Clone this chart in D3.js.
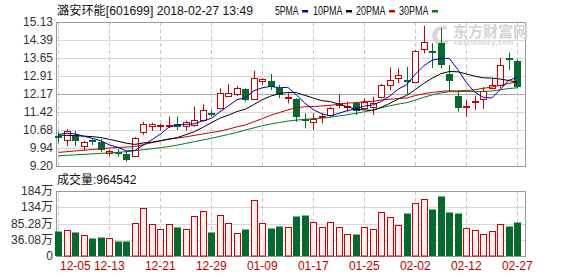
<!DOCTYPE html>
<html>
<head>
<meta charset="utf-8">
<script src="https://cdn.jsdelivr.net/npm/d3@7"></script>
<style>
  body { margin: 0; background: #fff; }
  svg text { font-family: "Liberation Sans", "Noto Sans CJK SC", sans-serif; font-size: 12px; }
</style>
</head>
<body>
<div id="chart"></div>
<script>
// 日K数据 (读自图片)
const dates = ["12-05","12-06","12-07","12-08","12-11","12-12","12-13","12-14","12-15","12-18","12-19","12-20","12-21","12-22","12-25","12-26","12-27","12-28","12-29",
  "01-02","01-03","01-04","01-05","01-08","01-09","01-10","01-11","01-12","01-15","01-16","01-17","01-18","01-19","01-22","01-23","01-24","01-25","01-26","01-29","01-30","01-31",
  "02-01","02-02","02-05","02-06","02-07","02-08","02-09","02-12","02-13","02-14","02-22","02-23","02-26","02-27"];
const opens = [10.42,10.27,10.48,10.02,10.27,10.19,9.73,9.78,9.71,9.61,10.60,10.85,10.83,10.87,10.95,10.86,10.89,11.09,11.40,
  11.58,12.09,12.16,12.36,11.95,12.72,12.70,12.42,12.00,11.95,11.13,11.02,11.20,11.30,11.71,11.63,11.78,11.60,11.64,12.05,12.54,12.81,
  12.76,12.67,14.01,13.92,14.25,12.99,12.07,11.62,11.85,11.95,12.43,12.52,13.63,13.52];
const closes = [10.40,10.66,10.23,10.20,10.23,9.86,9.82,9.75,9.45,10.34,10.93,10.93,10.90,10.90,10.82,11.00,11.09,11.51,11.37,
  12.19,12.19,12.40,11.92,12.81,12.78,12.47,12.12,12.04,11.23,11.11,11.12,11.26,11.58,11.78,11.67,11.48,11.85,11.78,12.54,12.74,12.95,
  12.72,13.93,14.29,13.89,13.34,12.71,11.60,11.66,11.89,12.29,12.54,13.36,13.59,12.45];
const highs = [10.61,10.72,10.64,10.23,10.35,10.31,9.86,9.90,9.79,10.39,11.02,10.98,10.93,11.23,11.23,11.07,11.64,11.74,11.51,
  12.40,12.58,12.49,12.40,13.12,12.81,12.99,12.54,12.19,11.99,11.37,11.37,11.37,11.64,12.15,11.85,11.85,11.99,12.05,12.58,13.26,13.22,
  13.28,13.98,14.98,14.26,14.88,13.36,12.32,11.92,12.10,12.45,12.81,13.65,13.87,13.59];
const lows = [10.13,10.02,10.02,9.82,10.06,9.78,9.61,9.58,9.37,9.56,10.48,10.65,10.65,10.76,10.68,10.65,10.82,11.02,11.23,
  11.53,12.08,12.08,11.85,11.92,12.54,12.33,11.99,11.78,11.02,10.75,10.68,10.96,11.23,11.58,11.44,11.30,11.51,11.30,11.99,12.33,12.61,
  12.17,12.61,13.84,13.24,13.22,12.26,11.44,11.23,11.51,11.55,12.36,12.40,13.15,12.40];
// 成交量 (万手)
const volumes = [72.1,74.1,69.3,60.0,51.6,55.2,51.6,41.1,43.1,93.8,135.3,90.2,76.9,90.2,82.6,76.9,112.7,127.7,68.5,
  115.5,93.0,64.8,76.9,158.7,93.0,80.6,84.5,81.7,113.6,116.4,95.8,81.7,95.8,83.4,62.0,62.0,83.4,76.1,124.0,109.9,87.4,
  121.2,149.4,160.6,133.3,169.9,124.8,121.2,78.9,74.1,62.0,71.3,90.2,85.4,96.4542];

// 均线
const ma5 = [10.50,10.55,10.52,10.43,10.34,10.24,10.07,9.97,9.82,9.84,10.06,10.28,10.51,10.80,10.90,10.91,10.94,11.06,11.16,
  11.43,11.67,11.93,12.01,12.30,12.42,12.48,12.42,12.44,12.13,11.79,11.52,11.35,11.26,11.37,11.48,11.55,11.67,11.71,11.86,12.08,12.37,
  12.55,12.98,13.33,13.56,13.63,13.63,13.17,12.64,12.24,12.03,12.00,12.35,12.73,12.85];
const ma10 = [10.47,10.46,10.45,10.43,10.41,10.37,10.30,10.22,10.14,10.09,10.15,10.18,10.24,10.31,10.37,10.49,10.61,10.79,10.98,
  11.17,11.29,11.44,11.54,11.73,11.93,12.08,12.18,12.23,12.22,12.11,12.00,11.89,11.85,11.75,11.64,11.54,11.51,11.49,11.62,11.78,11.96,
  12.11,12.35,12.60,12.82,13.00,13.09,13.08,12.99,12.90,12.83,12.82,12.78,12.72,12.65];
const ma20 = [9.76,9.79,9.82,9.85,9.88,9.91,9.94,9.96,9.98,10.00,10.08,10.16,10.23,10.30,10.35,10.40,10.46,10.52,10.58,
  10.63,10.72,10.81,10.89,11.02,11.15,11.29,11.40,11.51,11.60,11.64,11.65,11.67,11.70,11.74,11.79,11.81,11.85,11.86,11.92,11.95,11.98,
  12.00,12.10,12.18,12.23,12.27,12.30,12.29,12.31,12.34,12.40,12.45,12.52,12.60,12.66];
const ma30 = [9.62,9.64,9.66,9.68,9.70,9.72,9.74,9.76,9.79,9.83,9.87,9.91,9.95,10.00,10.06,10.13,10.20,10.27,10.34,
  10.42,10.50,10.58,10.68,10.77,10.86,10.93,10.99,11.05,11.09,11.12,11.15,11.17,11.21,11.26,11.31,11.37,11.43,11.50,11.60,11.68,11.75,
  11.81,11.91,12.03,12.13,12.21,12.26,12.26,12.27,12.26,12.27,12.29,12.34,12.39,12.42];

const priceTicks = [15.13,14.39,13.65,12.91,12.17,11.42,10.68,9.94,9.20];
const volTickValues = [0,46,92,138,184];
const volTickLabels = ["0","36.08万","85.28万","134万","184万"];
const dateTicks = ["12-05","12-13","12-21","12-29","01-09","01-17","01-25","02-02","02-12","02-27"];
const maLabels = ["5PMA","10PMA","20PMA","30PMA"];

const W = 578, H = 276;
const left = 56, right = 526;
const pTop = 22, pBottom = 166;
const vTop = 191, vBottom = 256;
const RED = "#cc0000", GREEN = "#08692f", GRID = "#d8d8d8";

const svg = d3.select("#chart").append("svg")
  .attr("width", W).attr("height", H);

const x = d3.scalePoint().domain(dates).range([58.3, 517.3]);
const y = d3.scaleLinear().domain([9.20, 15.13]).range([pBottom, pTop]);
const yv = d3.scaleLinear().domain([0, 184]).range([vBottom, vTop]);

const px = (d) => Math.round(x(d)) + 0.5;

// 网格
const drawPanel = (top, bottom, yScale, values, labels, midIndex) => {
  const g = svg.append("g");
  g.selectAll("line.h").data(values).enter().append("line")
    .attr("x1", left).attr("x2", right)
    .attr("y1", (d) => Math.round(yScale(d)) + 0.5)
    .attr("y2", (d) => Math.round(yScale(d)) + 0.5)
    .attr("stroke", (d, i) => (i === midIndex ? "#a8a8a8" : GRID));
  g.selectAll("line.v").data(dateTicks).enter().append("line")
    .attr("x1", px).attr("x2", px)
    .attr("y1", top).attr("y2", bottom)
    .attr("stroke", "#c8c8c8").attr("stroke-dasharray", "4,3");
  g.append("rect")
    .attr("x", left + 0.5).attr("y", top + 0.5)
    .attr("width", right - left - 1).attr("height", bottom - top)
    .attr("fill", "none").attr("stroke", "#999");
  g.selectAll("text").data(values).enter().append("text")
    .attr("x", 53).attr("y", (d) => yScale(d) + 4)
    .attr("text-anchor", "end").attr("fill", "#333")
    .text((d, i) => labels[i]);
};

drawPanel(pTop, pBottom, y, priceTicks, priceTicks.map((d) => d.toFixed(2)), 4);
drawPanel(vTop, vBottom, yv, volTickValues, volTickLabels, -1);

// 水印
const wm = svg.append("g").attr("fill", "#d4d4d4");
wm.append("path")
  .attr("d", "M446,26 C436,24 430,32 433,40 C436,46 444,46 449,42 L445,39 C441,42 437,40 437,36 C437,31 442,28 447,30 Z")
  .attr("opacity", 0.9);
wm.append("text").attr("x", 453).attr("y", 37)
  .style("font-size", "15px").style("font-weight", "bold").text("东方财富网");
wm.append("text").attr("x", 454).attr("y", 45)
  .style("font-size", "7px").style("font-weight", "bold").style("letter-spacing", "0.6px")
  .text("eastmoney.com");

// 均线
const maList = [
  { values: ma30, color: "#007a1f" },
  { values: ma20, color: "#cc0000" },
  { values: ma10, color: "#000000" },
  { values: ma5, color: "#0000b0" },
];
const line = d3.line().x((d, i) => x(dates[i])).y((d) => y(d));

// K线
const candles = svg.append("g");
dates.forEach((d, i) => {
  const up = closes[i] >= opens[i];
  const c = up ? RED : GREEN;
  const cx = px(d);
  candles.append("line")
    .attr("x1", cx).attr("x2", cx)
    .attr("y1", y(highs[i])).attr("y2", y(lows[i]))
    .attr("stroke", c);
  const top = Math.round(y(Math.max(opens[i], closes[i])));
  const h = Math.max(1, Math.round(y(Math.min(opens[i], closes[i]))) - top);
  if (up) {
    candles.append("rect")
      .attr("x", cx - 3).attr("y", top + 0.5)
      .attr("width", 6).attr("height", Math.max(h, 1))
      .attr("fill", "#fff").attr("stroke", c);
  } else {
    candles.append("rect")
      .attr("x", cx - 3.5).attr("y", top)
      .attr("width", 7).attr("height", Math.max(h, 2))
      .attr("fill", c);
  }
});

maList.forEach((m) => {
  svg.append("path").datum(m.values)
    .attr("d", line)
    .attr("fill", "none")
    .attr("stroke", m.color)
    .attr("stroke-width", 1);
});

// 成交量
svg.append("g").selectAll("rect").data(dates).enter().append("rect")
  .attr("x", (d, i) => (closes[i] >= opens[i] ? px(d) - 3 : px(d) - 3.5))
  .attr("y", (d, i) => Math.round(yv(volumes[i])) + 0.5)
  .attr("width", (d, i) => (closes[i] >= opens[i] ? 6 : 7))
  .attr("height", (d, i) => vBottom - Math.round(yv(volumes[i])) - 0.5)
  .attr("fill", (d, i) => (closes[i] >= opens[i] ? "#ffeeee" : GREEN))
  .attr("stroke", (d, i) => (closes[i] >= opens[i] ? RED : "none"));

// 日期
svg.append("g").selectAll("text").data(dateTicks).enter().append("text")
  .attr("x", (d, i) => (i === 0 ? 60 : x(d)))
  .attr("y", 270)
  .attr("text-anchor", (d, i) => (i === 0 ? "start" : "middle"))
  .attr("fill", "#bb0000")
  .text((d) => d);

// 标题与图例
svg.append("text").attr("x", 57).attr("y", 15).attr("fill", "#111")
  .attr("textLength", 196).attr("lengthAdjust", "spacingAndGlyphs")
  .text("潞安环能[601699] 2018-02-27 13:49");

const legendX = [275, 313, 356, 399];
const legendColors = ["#0000b0", "#000000", "#cc0000", "#007a1f"];
maLabels.forEach((label, i) => {
  const w = label.length * 5.9;
  svg.append("text").attr("x", legendX[i]).attr("y", 15).attr("fill", "#111")
    .attr("textLength", w).attr("lengthAdjust", "spacingAndGlyphs")
    .text(label);
  svg.append("rect").attr("x", legendX[i] + w + 3.5).attr("y", 10)
    .attr("width", 6).attr("height", 2.5).attr("fill", legendColors[i]);
});

svg.append("text").attr("x", 57).attr("y", 184).attr("fill", "#111")
  .text("成交量:" + Math.round(volumes[volumes.length - 1] * 10000));
</script>
</body>
</html>
